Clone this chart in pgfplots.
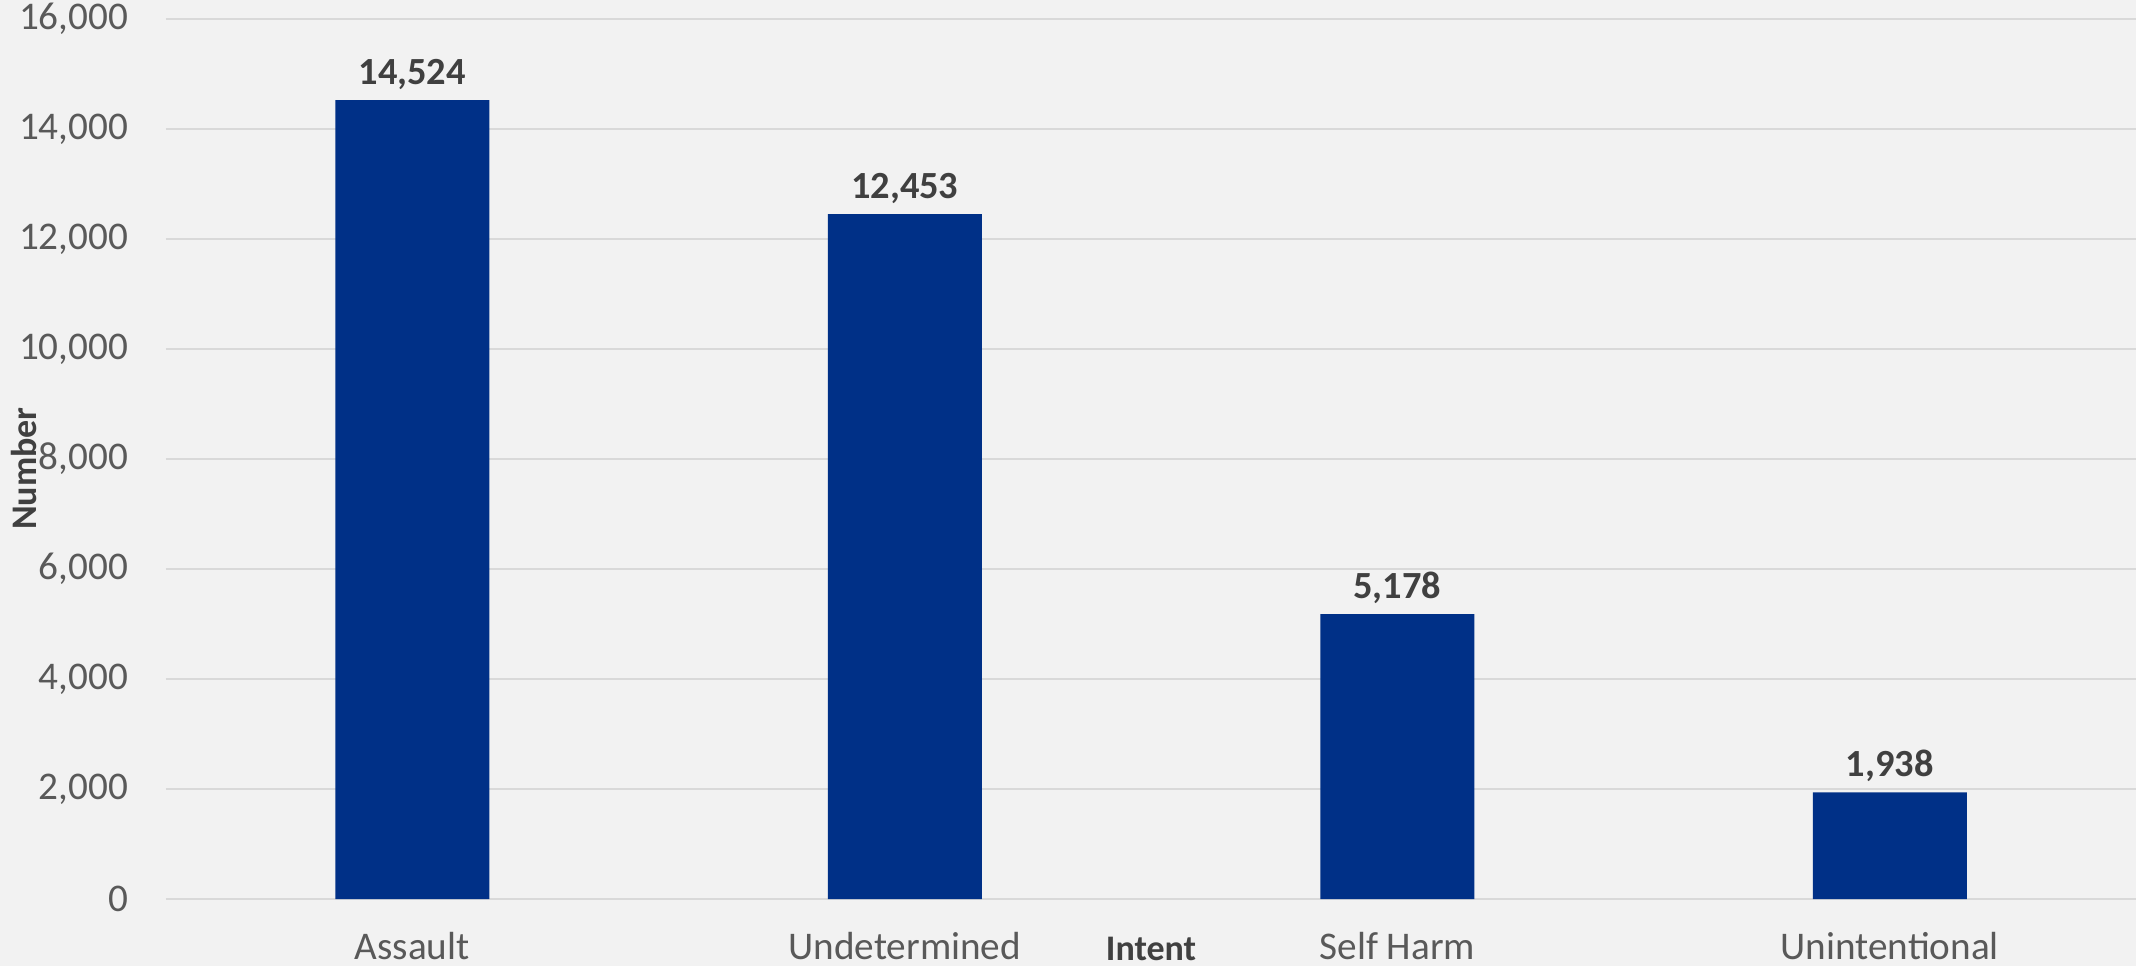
\documentclass[border=0pt]{standalone}
\usepackage{pgfplots}
\pgfplotsset{compat=1.18}
\usepackage{fontspec}
\setmainfont{Carlito}
\definecolor{bg}{HTML}{F2F2F2}
\definecolor{barc}{HTML}{003087}
\definecolor{gridc}{HTML}{D9D9D9}
\definecolor{tickc}{HTML}{595959}
\definecolor{labc}{HTML}{404040}
\begin{document}
\begin{tikzpicture}
\fill[bg] (-41.5pt,-16.75pt) rectangle (492.5pt,224.75pt);
\path[use as bounding box] (-41.5pt,-16.75pt) rectangle (492.5pt,224.75pt);
\begin{axis}[
  at={(0,0)}, anchor=south west,
  scale only axis, width=492.5pt, height=220pt,
  xmin=-0.5, xmax=3.5, ymin=0, ymax=16000,
  ytick={0,2000,...,16000},
  xtick={0,1,2,3},
  xticklabels={Assault,Undetermined,Self Harm,Unintentional},
  scaled y ticks=false,
  /pgf/number format/.cd, 1000 sep={,}, assume math mode=true, /pgfplots/.cd,
  axis line style={draw=none},
  major tick length=0pt,
  ymajorgrids, grid style={gridc, line width=0.5pt},
  ticklabel style={font=\fontsize{9.8}{11}\selectfont, text=tickc},
  yticklabel style={anchor=east, inner sep=0pt, xshift=-9.25pt},
  xticklabel style={anchor=base, inner sep=0pt, yshift=-15.2pt},
  xlabel={Intent},
  xlabel style={at={(rel axis cs:0.5,0)}, anchor=base, inner sep=0pt, yshift=-15.4pt, font=\bfseries\fontsize{9}{10}\selectfont, text=labc},
  ylabel={Number},
  ylabel style={at={(rel axis cs:0,0.5)}, anchor=center, inner sep=0pt, yshift=35.4pt, xshift=-2.4pt, font=\bfseries\fontsize{9}{10}\selectfont, text=labc},
  ybar, bar width=38.5pt,
  nodes near coords,
  nodes near coords style={anchor=base, yshift=4pt, font=\bfseries\fontsize{9.6}{11}\selectfont, text=labc},
  clip=false,
]
\addplot[fill=barc, draw=none, bar shift=0pt] coordinates {(0,14524) (1,12453) (2,5178) (3,1938)};
\end{axis}
\end{tikzpicture}
\end{document}
